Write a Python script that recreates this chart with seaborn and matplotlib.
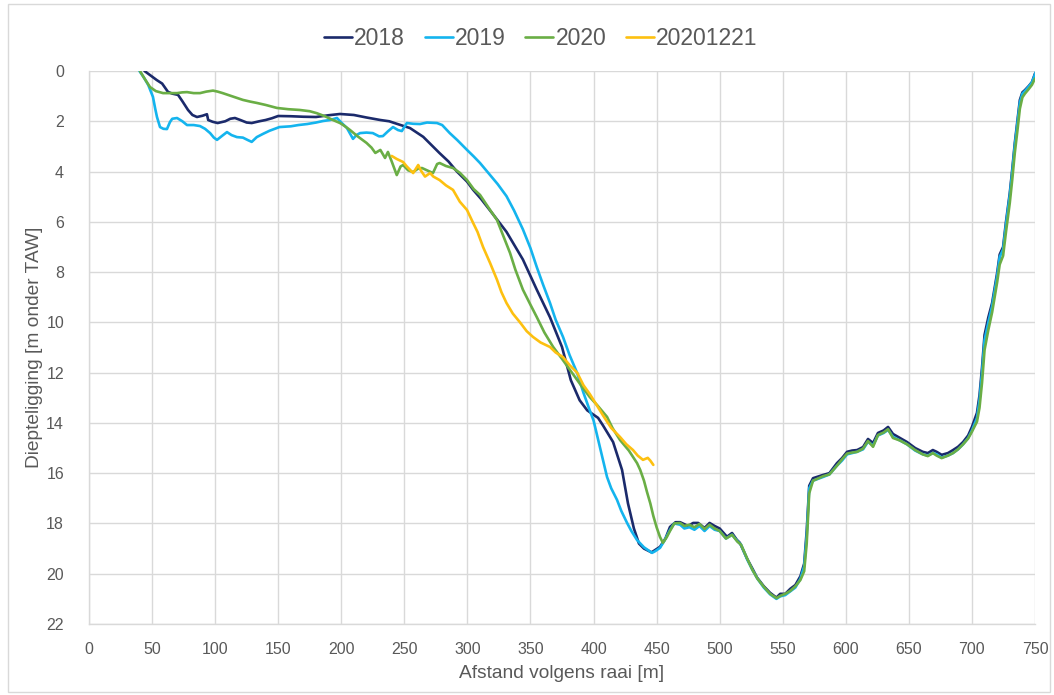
import numpy as np
import pandas as pd
import seaborn as sns
import matplotlib.pyplot as plt
from matplotlib.patches import Rectangle

# ---------------- data ----------------
x_2018 = [44, 48, 53.7, 58, 62.6, 66, 70.6, 74, 78.5, 82, 85.6, 90, 93.5, 94.5, 98, 102, 108, 112, 115.7,
          120, 125, 129, 135, 140, 145, 150, 160, 170, 180, 190, 199, 210, 220, 231, 238, 244, 254.5, 265,
          278, 285, 291.7, 299.7, 304.6, 311, 318, 331, 344, 355, 365.5, 375, 382, 389, 395, 403.6, 407.5,
          415.5, 422.6, 427.3, 432, 436, 440, 446, 452.7, 457, 460.6, 465, 468.6, 475, 479, 483, 488, 492,
          496, 500, 505.8, 509.8, 513.6, 516, 521.7, 526, 529.6, 535, 540, 545, 548, 552, 556, 560, 564,
          567, 569, 571, 574, 582, 587, 593, 597, 601, 605, 609, 613.7, 617.6, 621.6, 625.5, 630, 633.5,
          637.4, 643, 648.5, 655, 661, 665, 669, 672, 676, 681, 685, 689, 693, 697, 700, 704, 706, 708,
          710, 713, 716, 720, 722, 724.7, 727, 730, 732, 734, 736, 738, 740, 742, 745, 747.6, 750]
y_2018 = [0.0, 0.15, 0.36, 0.5, 0.83, 0.9, 0.95, 1.2, 1.55, 1.75, 1.83, 1.78, 1.72, 1.95, 2.02, 2.07, 2.0,
          1.9, 1.87, 1.95, 2.05, 2.07, 2.0, 1.95, 1.88, 1.79, 1.8, 1.82, 1.83, 1.76, 1.71, 1.75, 1.85, 1.95,
          2.0, 2.1, 2.27, 2.62, 3.27, 3.6, 4.0, 4.4, 4.73, 5.1, 5.55, 6.4, 7.5, 8.7, 9.8, 10.98, 12.3, 13.1,
          13.5, 13.8, 14.1, 14.76, 15.87, 17.2, 18.2, 18.8, 19.0, 19.15, 18.93, 18.6, 18.14, 17.95, 17.95,
          18.1, 17.98, 17.98, 18.18, 17.98, 18.1, 18.2, 18.53, 18.38, 18.65, 18.77, 19.4, 19.8, 20.15, 20.5,
          20.76, 20.95, 20.8, 20.8, 20.6, 20.45, 20.1, 19.6, 18.3, 16.5, 16.2, 16.07, 16.0, 15.6, 15.4, 15.15,
          15.1, 15.08, 14.96, 14.64, 14.8, 14.4, 14.3, 14.16, 14.44, 14.6, 14.76, 15.0, 15.15, 15.2, 15.08,
          15.15, 15.27, 15.2, 15.08, 14.95, 14.76, 14.5, 14.16, 13.6, 12.9, 11.8, 10.5, 9.8, 9.23, 8.03, 7.3,
          7.0, 6.0, 4.86, 3.9, 2.86, 2.0, 1.15, 0.85, 0.76, 0.6, 0.44, 0.1]

x_2019 = [40, 44, 47, 50.7, 52.5, 53.9, 56.3, 59, 61.8, 64.2, 66, 69.8, 74, 77.7, 83, 88, 92, 96, 99, 101.5,
          105, 109.4, 113, 117.3, 122, 126, 129, 133, 138, 143, 151, 160, 166, 173, 180, 185.5, 191, 196.6,
          200, 204.5, 209.3, 212, 214.9, 220, 225, 230, 233, 237, 241, 245, 248, 252, 257, 262.4, 268, 275.9,
          280, 286, 292, 299.7, 305, 310, 318, 324, 331, 337, 344, 350, 355, 360, 365.5, 370, 375.8, 381,
          386.9, 392, 397, 400, 405, 410.7, 414, 418.6, 422, 426.6, 430, 434.5, 440, 446.4, 449, 452.7, 456,
          460.6, 464, 468.6, 472, 476, 480, 484, 488, 492, 496, 500, 505, 509.8, 514, 517, 522, 526, 530,
          535, 540, 545, 548, 552, 556, 560, 564, 567, 569, 571, 574, 582, 587, 593, 597, 601, 605, 609,
          613.7, 617.6, 621.6, 625.5, 630, 633.5, 637.4, 643, 648.5, 655, 661, 665, 669, 672, 676, 681, 685,
          689, 693, 697, 700, 704, 706, 708, 710, 713, 716, 720, 722, 724.7, 727, 730, 732, 734, 736, 738,
          740, 742, 745, 747.6, 751]
y_2019 = [0.0, 0.3, 0.56, 1.03, 1.5, 1.83, 2.23, 2.3, 2.31, 2.03, 1.9, 1.87, 2.0, 2.15, 2.15, 2.19, 2.3, 2.47,
          2.65, 2.74, 2.6, 2.43, 2.55, 2.63, 2.65, 2.75, 2.82, 2.63, 2.5, 2.38, 2.23, 2.2, 2.15, 2.11, 2.05,
          1.99, 1.95, 1.87, 2.05, 2.27, 2.7, 2.55, 2.47, 2.45, 2.47, 2.6, 2.59, 2.4, 2.23, 2.35, 2.39, 2.07,
          2.1, 2.11, 2.05, 2.07, 2.15, 2.47, 2.75, 3.14, 3.4, 3.66, 4.14, 4.5, 4.98, 5.55, 6.3, 7.05, 7.8, 8.5,
          9.23, 9.9, 10.58, 11.3, 12.0, 12.8, 13.5, 13.9, 14.96, 16.15, 16.6, 17.06, 17.5, 17.98, 18.3, 18.66,
          18.95, 19.17, 19.1, 18.97, 18.7, 18.26, 18.0, 18.05, 18.2, 18.15, 18.25, 18.1, 18.3, 18.1, 18.25,
          18.3, 18.6, 18.45, 18.7, 18.85, 19.45, 19.85, 20.2, 20.55, 20.82, 21.0, 20.9, 20.85, 20.7, 20.55,
          20.2, 19.7, 18.5, 16.6, 16.3, 16.15, 16.05, 15.7, 15.5, 15.25, 15.2, 15.15, 15.05, 14.75, 14.9,
          14.5, 14.4, 14.28, 14.55, 14.7, 14.85, 15.1, 15.25, 15.3, 15.2, 15.25, 15.38, 15.3, 15.2, 15.05,
          14.85, 14.6, 14.3, 13.8, 13.1, 12.0, 10.7, 10.0, 9.35, 8.15, 7.4, 7.1, 6.1, 4.95, 4.0, 2.95, 2.1,
          1.25, 0.9, 0.8, 0.62, 0.45, 0.0]

x_2020 = [40.4, 44, 48.4, 53, 58.7, 64, 69.8, 74, 77.7, 83, 88, 93, 98.3, 102, 106, 113, 122, 128, 133, 140,
          149, 158, 167, 175, 180.7, 187, 193.4, 199, 203, 207, 213, 220, 224, 227, 231, 234.7, 237, 240, 244,
          247, 249, 253, 257, 261, 264, 268, 272.7, 276, 278, 283, 288.6, 294, 299.7, 305, 310, 318, 323.5,
          328, 333.8, 338, 344, 350, 355, 361, 368, 375, 381.4, 390, 397, 403, 410.7, 415, 421, 428, 434.5,
          437, 440, 442.4, 445, 447.4, 450, 452.7, 455, 458, 460.6, 464, 468.6, 472, 476, 480, 484, 488, 492,
          496, 500, 505, 509.8, 514, 517, 522, 526, 530, 535, 540, 545, 548, 552, 556, 560, 564, 567, 569,
          571, 574, 582, 587, 593, 597, 601, 605, 609, 613.7, 617.6, 621.6, 625.5, 630, 633.5, 637.4, 643,
          648.5, 655, 661, 665, 669, 672, 676, 681, 685, 689, 693, 697, 700, 704, 706, 708, 710, 713, 716,
          720, 722, 724.7, 727, 730, 732, 734, 736, 738, 740, 742, 745, 747.6, 750]
y_2020 = [0.0, 0.3, 0.64, 0.8, 0.88, 0.88, 0.88, 0.85, 0.84, 0.88, 0.88, 0.82, 0.78, 0.82, 0.88, 1.0, 1.15,
          1.22, 1.27, 1.35, 1.47, 1.52, 1.55, 1.6, 1.68, 1.8, 1.95, 2.07, 2.2, 2.35, 2.6, 2.86, 3.05, 3.26,
          3.14, 3.46, 3.22, 3.6, 4.14, 3.8, 3.74, 3.95, 4.02, 3.88, 3.86, 3.95, 4.06, 3.7, 3.66, 3.78, 3.86,
          4.05, 4.34, 4.7, 4.93, 5.53, 5.93, 6.5, 7.24, 7.9, 8.7, 9.3, 9.79, 10.4, 10.98, 11.45, 11.9, 12.5,
          12.97, 13.3, 13.76, 14.2, 14.68, 15.1, 15.6, 15.87, 16.3, 16.75, 17.2, 17.7, 18.15, 18.54, 18.77,
          18.55, 18.3, 18.0, 17.98, 18.1, 18.05, 18.15, 18.02, 18.22, 18.05, 18.2, 18.3, 18.6, 18.45, 18.72,
          18.85, 19.42, 19.85, 20.2, 20.52, 20.8, 20.97, 20.88, 20.8, 20.68, 20.5, 20.25, 19.9, 18.8, 16.8,
          16.3, 16.12, 16.05, 15.7, 15.45, 15.22, 15.18, 15.15, 15.02, 14.72, 14.95, 14.48, 14.38, 14.25,
          14.6, 14.7, 14.85, 15.08, 15.25, 15.32, 15.2, 15.3, 15.4, 15.3, 15.2, 15.05, 14.85, 14.62, 14.35,
          13.95, 13.4, 12.4, 11.1, 10.3, 9.6, 8.4, 7.7, 7.35, 6.4, 5.25, 4.3, 3.25, 2.4, 1.5, 1.05, 0.9,
          0.72, 0.55, 0.3]

x_1221 = [240, 244, 249, 252, 257, 260, 261, 263, 266.4, 270.4, 273, 278, 283, 288.6, 294, 299.7, 304.6, 308,
          312.4, 318, 323.5, 327, 331, 336, 341.7, 347, 352, 358, 365.5, 370, 375.8, 381, 387, 392, 397, 402,
          407.5, 414, 421, 426, 431.3, 435, 439.2, 443, 445, 447.4]
y_1221 = [3.38, 3.5, 3.62, 3.8, 4.06, 3.82, 3.74, 3.95, 4.2, 4.06, 4.2, 4.34, 4.55, 4.73, 5.2, 5.53, 6.05, 6.4,
          7.0, 7.64, 8.31, 8.8, 9.23, 9.65, 10.0, 10.35, 10.58, 10.8, 10.98, 11.2, 11.38, 11.7, 12.0, 12.5,
          12.85, 13.25, 13.7, 14.2, 14.56, 14.85, 15.08, 15.3, 15.47, 15.39, 15.5, 15.67]

series_names = ["2018", "2019", "2020", "20201221"]
colors = ["#1b2a6b", "#14b4ee", "#6aae45", "#fdc010"]
x_ticks = list(range(0, 751, 50))
y_ticks = list(range(0, 23, 2))

frames = []
for name, xs, ys in zip(series_names,
                        [x_2018, x_2019, x_2020, x_1221],
                        [y_2018, y_2019, y_2020, y_1221]):
    frames.append(pd.DataFrame({"x": xs, "y": ys, "serie": name}))
df = pd.concat(frames, ignore_index=True)

# ---------------- plot ----------------
sns.set_theme(style="white")
plt.rcParams["font.family"] = ["Liberation Sans", "DejaVu Sans"]

fig = plt.figure(figsize=(10.54, 6.95), dpi=100)
ax = fig.add_axes([89 / 1054, 1 - 624 / 695, (1035 - 89) / 1054, (624 - 71) / 695])

sns.lineplot(data=df, x="x", y="y", hue="serie", hue_order=series_names,
             palette=dict(zip(series_names, colors)), sort=False, estimator=None,
             linewidth=1.9, ax=ax)

ax.set_xlim(0, 750)
ax.set_ylim(22, 0)
ax.set_xticks(x_ticks)
ax.set_yticks(y_ticks)
grid_c = "#d9d9d9"
ax.grid(True, color=grid_c, linewidth=1.0)
ax.set_axisbelow(True)
for s in ["top", "right"]:
    ax.spines[s].set_visible(False)
for s in ["left", "bottom"]:
    ax.spines[s].set_color(grid_c)
    ax.spines[s].set_linewidth(1.0)
ax.tick_params(axis="both", which="both", length=5, color=grid_c, width=1,
               labelsize=11.5, labelcolor="#595959", pad=8)
ax.tick_params(axis="y", pad=13)

ax.set_xlabel("Afstand volgens raai [m]", fontsize=13.8, color="#595959")
ax.set_ylabel("Diepteligging [m onder TAW]", fontsize=13.8, color="#595959")
ax.xaxis.set_label_coords(0.5, -0.074)
ax.yaxis.set_label_coords(-0.049, 0.5)

leg = ax.get_legend()
if leg is not None:
    leg.remove()
handles, labels = ax.get_legend_handles_labels()
fig.legend(handles, labels, loc="center", bbox_to_anchor=(0.513, 0.945), ncol=4,
           frameon=False, fontsize=16.5, handlelength=1.22, handletextpad=0.1,
           columnspacing=0.85, labelcolor="#595959")

fig.patches.append(Rectangle((0.008, 0.004), 0.988, 0.99, transform=fig.transFigure,
                             fill=False, edgecolor=grid_c, linewidth=1.0))

fig.savefig("out.png", dpi=100)
